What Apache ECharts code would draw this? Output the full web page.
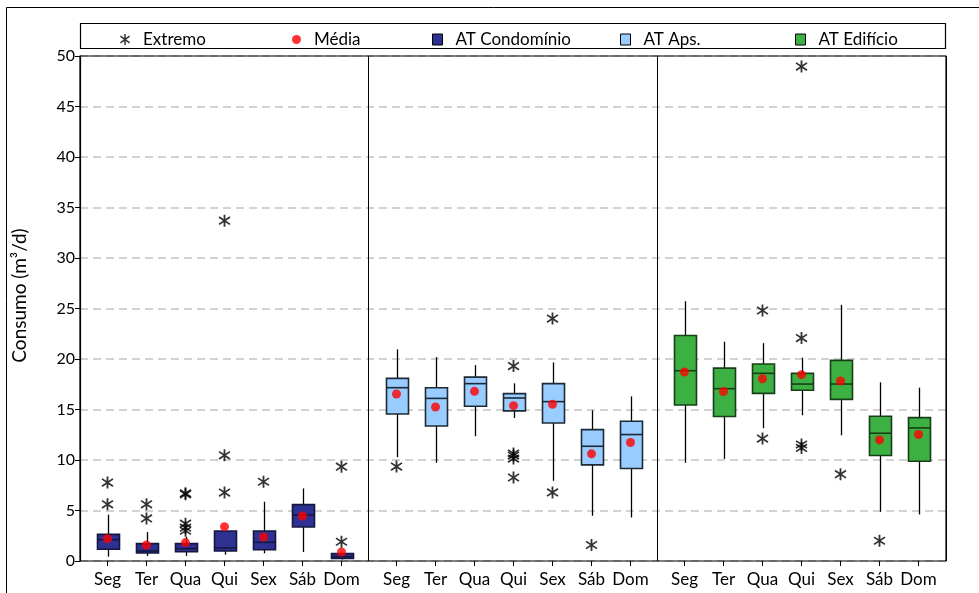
<!DOCTYPE html>
<html>
<head>
<meta charset="utf-8">
<script src="https://cdn.jsdelivr.net/npm/echarts@6/dist/echarts.min.js"></script>
<style>
html,body{margin:0;padding:0;background:#fff;}
#chart{width:979px;height:593px;}
</style>
</head>
<body>
<div id="chart"></div>
<script>
// ---- data ----
const categories = ['Seg','Ter','Qua','Qui','Sex','Sáb','Dom'];
const yTicks = [0,5,10,15,20,25,30,35,40,45,50];

// [min, Q1, median, Q3, max]
const condBox = [
  [0.43, 1.16, 2.11, 2.64, 4.59],
  [0.50, 0.79, 0.99, 1.72, 2.87],
  [0.50, 0.92, 1.22, 1.72, 2.40],
  [0.63, 0.99, 1.29, 2.97, 2.97],
  [0.76, 1.12, 1.85, 2.97, 5.87],
  [0.89, 3.37, 4.55, 5.58, 7.19],
  [0.15, 0.26, 0.43, 0.73, 0.73]
];
const condMean = [2.21, 1.58, 1.82, 3.40, 2.38, 4.46, 0.89];
const condOut = [
  [0, 7.76], [0, 5.61],
  [1, 5.61], [1, 4.22],
  [2, 6.70], [2, 6.60], [2, 3.70], [2, 3.30], [2, 3.00],
  [3, 33.7], [3, 10.46], [3, 6.77],
  [4, 7.85],
  [6, 9.34], [6, 1.91]
];

const apsBox = [
  [10.28, 14.56, 17.16, 18.08, 20.95],
  [9.72, 13.37, 16.10, 17.16, 20.19],
  [12.35, 15.32, 17.56, 18.21, 19.40],
  [14.16, 14.86, 16.14, 16.57, 17.59],
  [7.94, 13.67, 15.78, 17.56, 19.66],
  [4.48, 9.52, 11.36, 13.01, 14.92],
  [4.31, 9.16, 12.52, 13.83, 16.30]
];
const apsMean = [16.53, 15.25, 16.80, 15.38, 15.51, 10.61, 11.73];
const apsOut = [
  [0, 9.35],
  [3, 19.30], [3, 10.64], [3, 10.44], [3, 10.14], [3, 8.27],
  [4, 24.0], [4, 6.79],
  [5, 1.58]
];

const edifBox = [
  [9.72, 15.45, 18.84, 22.33, 25.72],
  [10.11, 14.30, 17.06, 19.10, 21.71],
  [13.14, 16.60, 18.58, 19.50, 21.57],
  [14.43, 16.90, 17.52, 18.58, 20.13],
  [12.45, 16.00, 17.52, 19.86, 25.36],
  [4.87, 10.44, 12.65, 14.33, 17.69],
  [4.61, 9.88, 13.18, 14.20, 17.16]
];
const edifMean = [18.71, 16.77, 18.05, 18.45, 17.82, 11.99, 12.52];
const edifOut = [
  [2, 24.80], [2, 12.12],
  [3, 48.95], [3, 22.07], [3, 11.53], [3, 11.20],
  [4, 8.60],
  [5, 2.01]
];

// ---- styling ----
const FONT = 'Lato';
// six-armed asterisk (vertical + two diagonals), filled thin bars
const ASTER = 'path://M4.3 10L5.7 10L5.7 0L4.3 0Z M8.8 8.6L9.6 7.5L1.2 1.4L0.4 2.5Z M0.4 7.5L1.2 8.6L9.6 2.5L8.8 1.4Z';
const groups = [
  {name:'AT Condomínio', box:condBox, mean:condMean, out:condOut, fill:'#2e3192', border:'#15173f', left:88},
  {name:'AT Aps.', box:apsBox, mean:apsMean, out:apsOut, fill:'#99ccff', border:'#1d2a36', left:377},
  {name:'AT Edifício', box:edifBox, mean:edifMean, out:edifOut, fill:'#3cb043', border:'#163f16', left:665}
];

const TOP = 56, HEIGHT = 505;

const grid = [{left:80, top:TOP, width:866, height:HEIGHT, show:true, borderColor:'#000', borderWidth:1.2, backgroundColor:'transparent', z:1}];
const xAxis = [{gridIndex:0, type:'value', min:0, max:3, interval:1,
  axisLine:{show:false}, axisTick:{show:false}, axisLabel:{show:false},
  splitLine:{show:true, lineStyle:{color:'#000', width:1}}}];
const yAxis = [{gridIndex:0, type:'value', min:0, max:50, interval:5,
  name:'Consumo (m³/d)', nameLocation:'middle', nameGap:51,
  nameTextStyle:{fontFamily:FONT, fontSize:19, color:'#000', padding:[0,0,0,26]},
  axisLine:{show:true, lineStyle:{color:'#000', width:1.2}},
  axisTick:{show:true, inside:false, length:5, lineStyle:{color:'#000', width:1}},
  axisLabel:{show:true, margin:5, fontFamily:FONT, fontSize:16, color:'#000',
    formatter: v => yTicks.indexOf(v) >= 0 ? String(v) : ''},
  splitLine:{show:true, lineStyle:{color:'#c4c4c4', width:1.5, type:[8,5]}}}];

const series = [];

groups.forEach((g, k) => {
  const gi = k + 1;
  grid.push({left:g.left, top:TOP, width:273, height:HEIGHT, z:2});
  xAxis.push({gridIndex:gi, type:'category', data:categories, boundaryGap:true,
    axisLine:{show:false},
    axisTick:{show:true, alignWithLabel:true, inside:false, length:5, lineStyle:{color:'#000', width:1}},
    axisLabel:{margin:10, fontFamily:FONT, fontSize:17, color:'#000', interval:0},
    splitLine:{show:false}});
  yAxis.push({gridIndex:gi, type:'value', min:0, max:50, show:false, splitLine:{show:false}});

  const border = g.border;
  series.push({
    name:g.name, type:'custom', xAxisIndex:gi, yAxisIndex:gi, z:3,
    itemStyle:{color:g.fill},
    encode:{x:0, y:[1,2,3,4,5]},
    data: g.box.map((b, i) => [i, b[0], b[1], b[2], b[3], b[4]]),
    renderItem: function (params, api) {
      const x = api.value(0);
      const mn = api.coord([x, api.value(1)]);
      const q1 = api.coord([x, api.value(2)]);
      const md = api.coord([x, api.value(3)]);
      const q3 = api.coord([x, api.value(4)]);
      const mx = api.coord([x, api.value(5)]);
      const cx = Math.round(mn[0]) + 0.5;
      const w = 22;
      return {type:'group', children:[
        {type:'line', shape:{x1:cx, y1:mx[1], x2:cx, y2:q3[1]}, style:{stroke:'#000', lineWidth:1.3}},
        {type:'line', shape:{x1:cx, y1:q1[1], x2:cx, y2:mn[1]}, style:{stroke:'#000', lineWidth:1.3}},
        {type:'rect', shape:{x:cx - w/2, y:q3[1], width:w, height:q1[1] - q3[1]},
          style:{fill:g.fill, stroke:border, lineWidth:1.6}},
        {type:'line', shape:{x1:cx - w/2, y1:md[1], x2:cx + w/2, y2:md[1]}, style:{stroke:border, lineWidth:1.6}}
      ]};
    }
  });
  series.push({
    name:'Média', type:'scatter', xAxisIndex:gi, yAxisIndex:gi, z:5,
    symbol:'circle', symbolSize:9, itemStyle:{color:'#ff0000'},
    data: g.mean.map((m, i) => [i, m])
  });
  series.push({
    name:'Extremo', type:'scatter', xAxisIndex:gi, yAxisIndex:gi, z:5,
    symbol:ASTER, symbolSize:12, itemStyle:{color:'#000'},
    data: g.out.map(o => [o[0], o[1]])
  });
});

const legendBase = {top:26, itemWidth:10, itemHeight:11, itemGap:0, orient:'horizontal',
  textStyle:{fontFamily:FONT, fontSize:17, color:'#000', padding:[0,0,0,8]}, selectedMode:false};
const legend = [
  Object.assign({}, legendBase, {left:115, data:[{name:'Extremo', icon:ASTER, itemStyle:{color:'#000'}}]}),
  Object.assign({}, legendBase, {left:287, itemWidth:9, itemHeight:9, data:[{name:'Média', icon:'circle', itemStyle:{color:'#ff0000'}}]}),
  Object.assign({}, legendBase, {left:427, data:[{name:'AT Condomínio', icon:'rect', itemStyle:{color:'#2e3192', borderColor:'#000', borderWidth:1}}]}),
  Object.assign({}, legendBase, {left:615, data:[{name:'AT Aps.', icon:'rect', itemStyle:{color:'#99ccff', borderColor:'#000', borderWidth:1}}]}),
  Object.assign({}, legendBase, {left:790, data:[{name:'AT Edifício', icon:'rect', itemStyle:{color:'#3cb043', borderColor:'#000', borderWidth:1}}]})
];

const chart = echarts.init(document.getElementById('chart'), null, {renderer:'canvas'});
chart.setOption({
  animation:false,
  backgroundColor:'#fff',
  textStyle:{fontFamily:FONT},
  grid, xAxis, yAxis, series, legend,
  graphic:[
    {type:'polyline', silent:true, shape:{points:[[6.5,700],[6.5,7.5],[1000,7.5]]}, style:{stroke:'#000', lineWidth:1, fill:null}},
    {type:'rect', silent:true, shape:{x:80.5, y:23.5, width:865, height:25}, style:{stroke:'#000', lineWidth:1.2, fill:null}}
  ]
});
</script>
</body>
</html>
